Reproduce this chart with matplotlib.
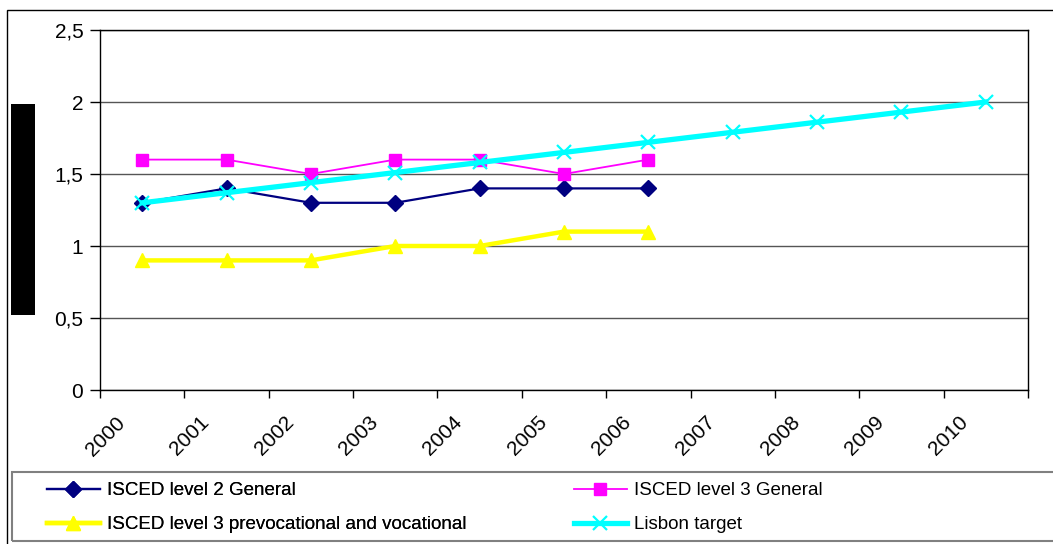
import matplotlib
matplotlib.use("Agg")
import matplotlib.pyplot as plt
import matplotlib.transforms as mtransforms
from matplotlib.patches import Rectangle

plt.rcParams['font.family'] = ['Liberation Sans', 'DejaVu Sans']

# Data
years = ['2000', '2001', '2002', '2003', '2004', '2005', '2006',
         '2007', '2008', '2009', '2010']
isced2_general = [1.3, 1.4, 1.3, 1.3, 1.4, 1.4, 1.4]
isced3_general = [1.6, 1.6, 1.5, 1.6, 1.6, 1.5, 1.6]
isced3_vocational = [0.9, 0.9, 0.9, 1.0, 1.0, 1.1, 1.1]
lisbon_target = [1.3, 1.37, 1.44, 1.51, 1.58, 1.65, 1.72, 1.79, 1.86, 1.93, 2.0]

W, H = 1053, 544
fig = plt.figure(figsize=(W / 100, H / 100), dpi=100)
ax = fig.add_axes([100 / W, 1 - 390 / H, (1028 - 100) / W, (390 - 30) / H])

x_short = list(range(len(isced2_general)))
x_long = list(range(len(years)))

l2, = ax.plot(x_short, isced2_general, color='#000080', lw=1.6, marker='D',
              markersize=8.5, label='ISCED level 2 General', zorder=3)
l3, = ax.plot(x_short, isced3_general, color='#FF00FF', lw=1.3, marker='s',
              markersize=8.5, label='ISCED level 3 General', zorder=3)
lv, = ax.plot(x_short, isced3_vocational, color='#FFFF00', lw=3.2, marker='^',
              markersize=10.5, label='ISCED level 3 prevocational and vocational',
              zorder=3)
lt, = ax.plot(x_long, lisbon_target, color='#00FFFF', lw=3.8, marker='x',
              markersize=9.5, mew=1.6, label='Lisbon target', zorder=4)

# Axes formatting (Excel style)
ax.set_xlim(-0.5, len(years) - 0.5)
ax.set_ylim(0, 2.5)
ax.set_yticks([0, 0.5, 1, 1.5, 2, 2.5])
ax.set_yticklabels(['0', '0,5', '1', '1,5', '2', '2,5'], fontsize=15)
ax.set_xticks(x_long)
ax.set_xticklabels(years, fontsize=15, rotation=45, ha='right', va='top',
                   rotation_mode='anchor')
ax.set_xticks([i - 0.5 for i in range(len(years) + 1)], minor=True)
ax.tick_params(axis='x', which='major', length=0)
ax.tick_params(axis='x', which='minor', length=6, direction='out', width=1)
ax.tick_params(axis='y', length=7, direction='out', width=1, pad=5)

offset = mtransforms.ScaledTranslation(-0.27, -0.18, fig.dpi_scale_trans)
for lab in ax.get_xticklabels():
    lab.set_transform(lab.get_transform() + offset)

ax.grid(axis='y', color='#555555', lw=1)
ax.set_axisbelow(True)
for s in ax.spines.values():
    s.set_color('black')
    s.set_linewidth(1)

# Outer chart border and redacted block
fig.patches.append(Rectangle((7 / W, -0.1), 1.2, 1 - 10 / H + 0.1, fill=False,
                             edgecolor='black', lw=1, transform=fig.transFigure))
fig.patches.append(Rectangle((11 / W, 1 - 315 / H), 24 / W, 211 / H,
                             facecolor='black', edgecolor='none',
                             transform=fig.transFigure))

# Legend box with two columns
fig.patches.append(Rectangle((12 / W, 3 / H), 1.2, 69 / H, fill=False,
                             edgecolor='#808080', lw=1.5,
                             transform=fig.transFigure))
leg_kw = dict(loc='upper left', fontsize=13.5, frameon=False, numpoints=1,
              handlelength=2.8, handletextpad=0.4, borderpad=0,
              labelspacing=0.9, borderaxespad=0)
leg1 = fig.legend(handles=[l2, lv], bbox_to_anchor=(47 / W, 1 - 482 / H), **leg_kw)
fig.add_artist(leg1)
fig.legend(handles=[l3, lt], bbox_to_anchor=(574 / W, 1 - 482 / H), **leg_kw)

fig.savefig('out.png', dpi=100)
